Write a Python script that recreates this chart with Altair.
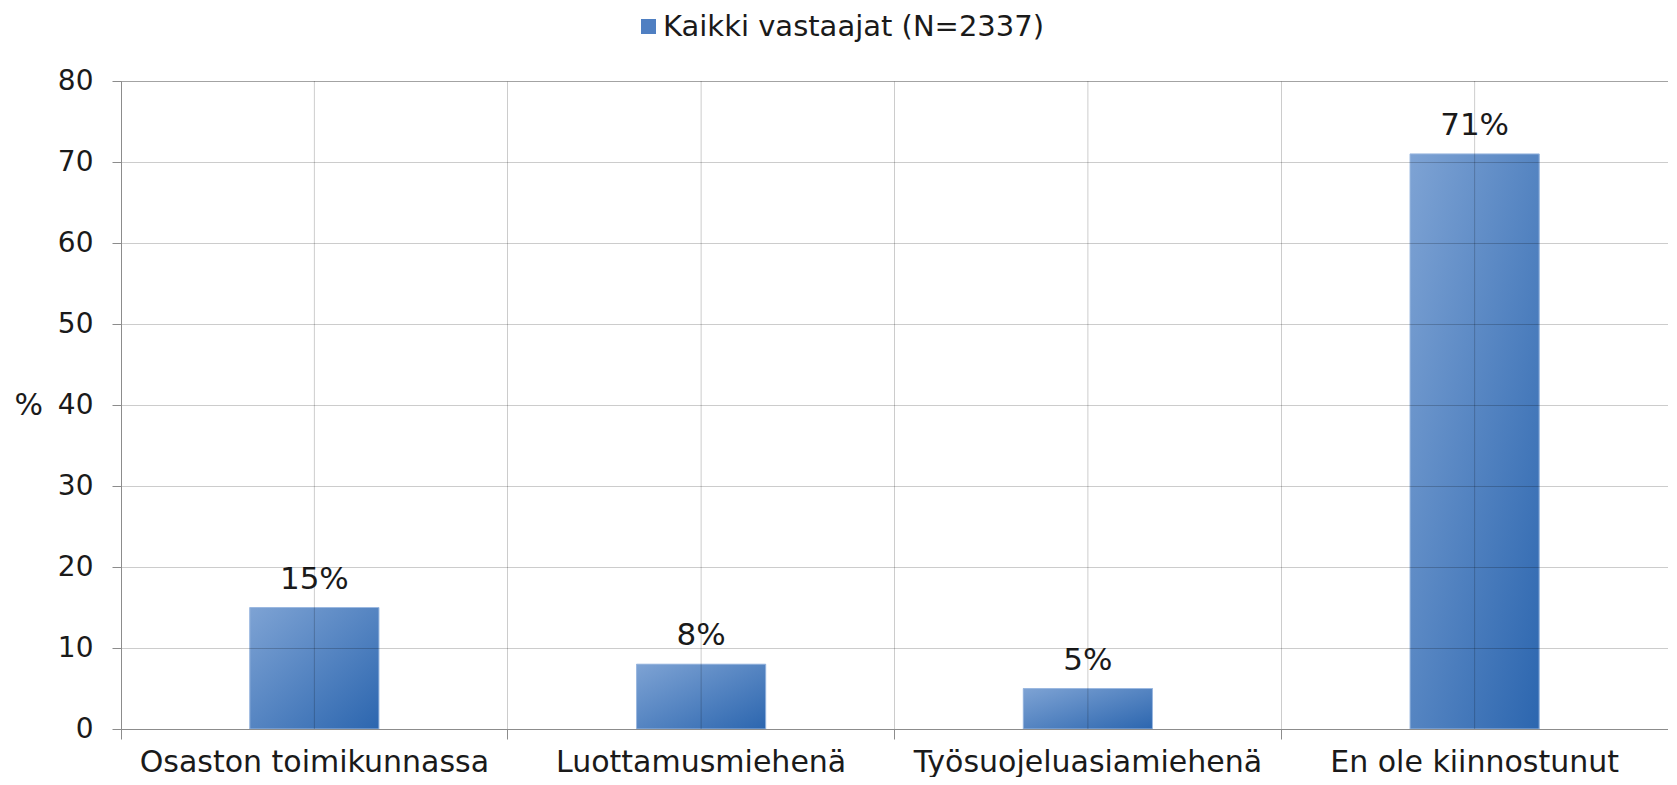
import altair as alt
import pandas as pd

categories = ["Osaston toimikunnassa", "Luottamusmiehenä", "Työsuojeluasiamiehenä", "En ole kiinnostunut"]
values = [15, 8, 5, 71]
value_labels = ["15%", "8%", "5%", "71%"]
series_name = "Kaikki vastaajat (N=2337)"
y_ticks = [0, 10, 20, 30, 40, 50, 60, 70, 80]

df = pd.DataFrame({
    "cat": categories,
    "val": values,
    "lab": value_labels,
    "series": [series_name] * len(categories),
})

FONT = "DejaVu Sans"
TXT = "#1a1a1a"
GRID = "rgba(0,0,0,0.2)"
AXIS = "#8c8c8c"

gradient = alt.LinearGradient(
    gradient="linear",
    stops=[alt.GradientStop(offset=0, color="#7ea3d4"),
           alt.GradientStop(offset=1, color="#2c66af")],
    x1=0, y1=0, x2=1, y2=1,
)

x_enc = alt.X(
    "cat:N", sort=categories, title=None,
    scale=alt.Scale(paddingInner=0, paddingOuter=0),
    axis=alt.Axis(
        labelAngle=0, labelFontSize=30, labelColor=TXT, labelFont=FONT,
        labelPadding=8, labelLimit=0, bandPosition=1, tickExtra=True,
        grid=True, gridColor=GRID, gridWidth=1,
        domainColor=AXIS, tickColor=AXIS, tickSize=10, zindex=1,
    ),
)
y_enc = alt.Y(
    "val:Q",
    scale=alt.Scale(domain=[0, 80], nice=False, zero=True),
    axis=alt.Axis(
        values=y_ticks, title="%", titleAngle=0, titleX=-107, titleY=324,
        titleAlign="left", titleBaseline="middle", titleFontSize=30,
        titleFontWeight="normal", titleColor=TXT, titleFont=FONT,
        labelFontSize=28, labelColor=TXT, labelFont=FONT, labelPadding=19,
        grid=True, gridColor=GRID, gridWidth=1,
        domainColor=AXIS, tickColor=AXIS, tickSize=9, zindex=1,
    ),
)

base = alt.Chart(df)

legend_bars = base.mark_bar(width=alt.RelativeBandSize(0.334)).encode(
    x=x_enc, y=y_enc,
    color=alt.Color(
        "series:N", scale=alt.Scale(range=["#4f7fc2"]),
        legend=alt.Legend(
            title=None, orient="none", legendX=513, legendY=-69,
            symbolType="square", symbolSize=225, symbolStrokeWidth=0,
            labelFontSize=29, labelColor=TXT, labelFont=FONT,
            labelOffset=0, labelLimit=0, padding=0,
        ),
    ),
)

grad_bars = base.mark_bar(
    width=alt.RelativeBandSize(0.334), fill=gradient,
    stroke="#9bb8e0", strokeWidth=1,
).encode(x=x_enc, y=y_enc)

center_rules = base.mark_rule(color=GRID, strokeWidth=1).encode(x=alt.X("cat:N", sort=categories))

texts = base.mark_text(
    baseline="alphabetic", dy=-19, fontSize=31, font=FONT, color=TXT,
).encode(x=alt.X("cat:N", sort=categories), y="val:Q", text="lab:N")

chart = alt.layer(legend_bars, grad_bars, center_rules, texts).properties(
    width=1547, height=648,
    autosize=alt.AutoSizeParams(type="none"),
    padding={"left": 113, "top": 73, "right": 0, "bottom": 48},
).configure(font=FONT).configure_view(stroke=GRID, strokeWidth=1)

chart.save("out.html", embed_options={"renderer": "svg", "actions": False})
